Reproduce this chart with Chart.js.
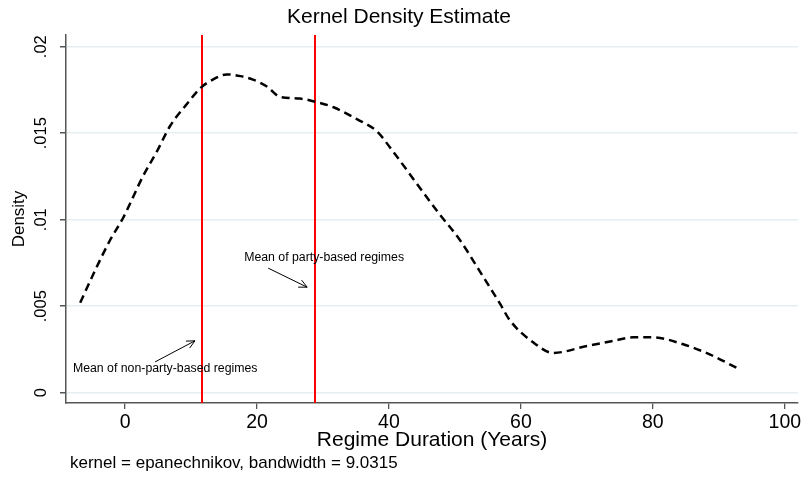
<!DOCTYPE html>
<html>
<head>
<meta charset="utf-8">
<script src="https://cdn.jsdelivr.net/npm/chart.js@4/dist/chart.umd.min.js"></script>
<style>
  html, body { margin: 0; padding: 0; background: #fff; }
  #wrap { width: 804px; height: 477px; position: relative; }
</style>
</head>
<body>
<div id="wrap"><canvas id="c" width="804" height="477"></canvas></div>
<script>
// ---- data ----
const durationYears = [-6.8, -4.5, -2.3, -0.3, 2.7, 4.9, 6.8, 9.4, 11.4, 13.3, 15.4, 17.5, 19.4, 21.5, 23.5, 26.5, 29, 31.6, 35.2, 38.2, 40.5, 44, 47.5, 50.8, 53.8, 56.9, 58.3, 61.9, 64.9, 70, 74, 77, 80, 84.6, 88.7, 92.9];
const densityValues = [0.0052, 0.0071, 0.0088, 0.0101, 0.0125, 0.0140, 0.0154, 0.0167, 0.0176, 0.0181, 0.0184, 0.0183, 0.0181, 0.0177, 0.0171, 0.0170, 0.0168, 0.0165, 0.0158, 0.0151, 0.0140, 0.0122, 0.0104, 0.0088, 0.0070, 0.0051, 0.0042, 0.0029, 0.0023, 0.0027, 0.0030, 0.0032, 0.0032, 0.0028, 0.0022, 0.0014];
const meanLines = [11.6, 28.8];               // means of non-party / party-based regimes
const xTickValues = [0, 20, 40, 60, 80, 100];
const yTickValues = [0, 0.005, 0.01, 0.015, 0.02];
const yTickLabels = ["0", ".005", ".01", ".015", ".02"];
const annotationTexts = ["Mean of party-based regimes", "Mean of non-party-based regimes"];
const annotationAt = [[18.05, 0.00779], [-7.9, 0.00137]];
const arrowFrom = [[21.7, 0.0072], [4.55, 0.00178]];
const arrowTo = [[27.6, 0.0061], [10.6, 0.0030]];
const noteText = "kernel = epanechnikov, bandwidth = 9.0315";

const FONT = "'Liberation Sans', Arial, Helvetica, sans-serif";

const extras = {
  id: 'extras',
  beforeDatasetsDraw(chart) {
    const {ctx, chartArea, scales} = chart;
    ctx.save();
    ctx.strokeStyle = '#ff0000';
    ctx.lineWidth = 2;
    meanLines.forEach(m => {
      const px = Math.round(scales.x.getPixelForValue(m));
      ctx.beginPath();
      ctx.moveTo(px, chartArea.top);
      ctx.lineTo(px, chartArea.bottom);
      ctx.stroke();
    });
    ctx.restore();
  },
  afterDraw(chart) {
    const {ctx, scales} = chart;
    const xs = scales.x, ys = scales.y;
    ctx.save();
    // rotated y tick labels
    ctx.fillStyle = '#000';
    ctx.font = "16.5px " + FONT;
    ctx.textAlign = 'center';
    ctx.textBaseline = 'middle';
    yTickValues.forEach((v, i) => {
      ctx.save();
      ctx.translate(41, ys.getPixelForValue(v));
      ctx.rotate(-Math.PI / 2);
      ctx.fillText(yTickLabels[i], 0, 0);
      ctx.restore();
    });
    // annotations
    ctx.font = "12.3px " + FONT;
    ctx.textAlign = 'left';
    ctx.textBaseline = 'middle';
    annotationTexts.forEach((t, i) => {
      ctx.fillText(t, xs.getPixelForValue(annotationAt[i][0]), ys.getPixelForValue(annotationAt[i][1]));
      const x1 = xs.getPixelForValue(arrowFrom[i][0]), y1 = ys.getPixelForValue(arrowFrom[i][1]);
      const x2 = xs.getPixelForValue(arrowTo[i][0]), y2 = ys.getPixelForValue(arrowTo[i][1]);
      ctx.strokeStyle = '#000';
      ctx.lineWidth = 1;
      ctx.beginPath();
      ctx.moveTo(x1, y1);
      ctx.lineTo(x2, y2);
      const a = Math.atan2(y2 - y1, x2 - x1);
      const L = 9, w = 0.45;
      ctx.moveTo(x2 - L * Math.cos(a - w), y2 - L * Math.sin(a - w));
      ctx.lineTo(x2, y2);
      ctx.lineTo(x2 - L * Math.cos(a + w), y2 - L * Math.sin(a + w));
      ctx.stroke();
    });
    // bottom note
    ctx.font = "17px " + FONT;
    ctx.textAlign = 'left';
    ctx.textBaseline = 'middle';
    ctx.fillText(noteText, 70, 463);
    ctx.restore();
  }
};

new Chart(document.getElementById('c'), {
  type: 'line',
  data: {
    datasets: [{
      data: durationYears.map((x, i) => ({x: x, y: densityValues[i]})),
      borderColor: '#000',
      borderWidth: 2.5,
      borderDash: [8, 5],
      pointRadius: 0,
      fill: false,
      cubicInterpolationMode: 'monotone'
    }]
  },
  options: {
    responsive: false,
    animation: false,
    devicePixelRatio: 1,
    layout: { padding: { left: 0, right: 6, top: 0, bottom: 0 } },
    plugins: {
      legend: { display: false },
      tooltip: { enabled: false },
      title: {
        display: true,
        text: 'Kernel Density Estimate',
        color: '#000',
        font: { family: FONT, size: 21, weight: 'normal' },
        padding: { top: 5, bottom: 4.8 }
      }
    },
    scales: {
      x: {
        type: 'linear',
        min: -8.95,
        max: 102,
        afterBuildTicks: s => { s.ticks = xTickValues.map(v => ({value: v})); },
        afterFit: s => { s.height = 74; },
        grid: { display: true, drawOnChartArea: false, drawTicks: true, tickLength: 6, tickColor: '#555', lineWidth: 1.3 },
        border: { display: true, color: '#555', width: 1.5 },
        ticks: { color: '#000', padding: 2, font: { family: FONT, size: 19.5 }, maxRotation: 0 },
        title: {
          display: true,
          text: 'Regime Duration (Years)',
          color: '#000',
          font: { family: FONT, size: 21 },
          padding: { top: 0, bottom: 24.4 }
        }
      },
      y: {
        type: 'linear',
        min: -0.000595,
        max: 0.020676,
        afterBuildTicks: s => { s.ticks = yTickValues.map(v => ({value: v})); },
        afterFit: s => { s.width = 66; },
        grid: { display: true, color: '#e6eef1', lineWidth: 1.5, drawTicks: true, tickLength: 6, tickColor: '#555' },
        border: { display: true, color: '#555', width: 1.5 },
        ticks: { display: false },
        title: {
          display: true,
          text: 'Density',
          color: '#000',
          font: { family: FONT, size: 17 },
          padding: { top: 9, bottom: 0 }
        }
      }
    }
  },
  plugins: [extras]
});
</script>
</body>
</html>
